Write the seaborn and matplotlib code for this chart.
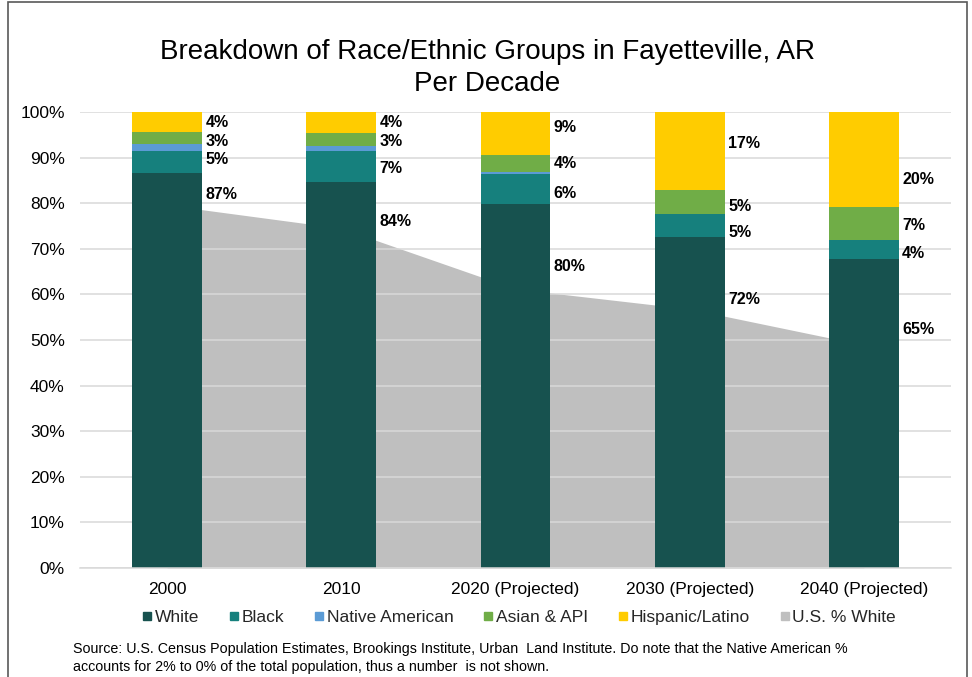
import matplotlib
matplotlib.use("Agg")
import matplotlib.pyplot as plt
import seaborn as sns
import numpy as np
from matplotlib.lines import Line2D
from matplotlib.patches import Rectangle

# Data (percent of population)
years = ["2000", "2010", "2020 (Projected)", "2030 (Projected)", "2040 (Projected)"]
white = [86.6, 84.6, 79.9, 72.6, 67.7]
black = [4.8, 6.8, 6.6, 5.1, 4.2]
native = [1.6, 1.1, 0.4, 0.0, 0.0]
asian = [2.6, 3.0, 3.7, 5.1, 7.3]
hispanic = [4.4, 4.5, 9.4, 17.2, 20.8]
us_white = [79.6, 74.5, 61.2, 56.8, 48.9]

# data label text as shown on the chart
white_lbl = ["87%", "84%", "80%", "72%", "65%"]
black_lbl = ["5%", "7%", "6%", "5%", "4%"]
asian_lbl = ["3%", "3%", "4%", "5%", "7%"]
hisp_lbl = ["4%", "4%", "9%", "17%", "20%"]

series = ["White", "Black", "Native American", "Asian & API", "Hispanic/Latino"]
colors = ["#17524F", "#16807D", "#5B9BD5", "#70AD47", "#FFCC00"]
gray = "#BFBFBF"

sns.set_theme(style="white")
plt.rcParams["font.family"] = ["Liberation Sans", "DejaVu Sans"]

fig = plt.figure(figsize=(9.72, 6.77), dpi=100)
ax = fig.add_axes([80 / 972, 1 - 568 / 677, 871 / 972, 456 / 677])

# U.S. % white as grey area behind the bars
x = np.arange(len(years))
ax.fill_between(x, us_white, 0, color=gray, lw=0, zorder=0.3)

# stacked bars: draw cumulative totals from the top down
stack = np.array([white, black, native, asian, hispanic])
cum = np.cumsum(stack, axis=0)
for i in range(len(series) - 1, -1, -1):
    sns.barplot(x=years, y=cum[i], color=colors[i], width=0.4, saturation=1,
                linewidth=0, ax=ax, zorder=2)

# data labels to the right of each bar
bottoms = cum - stack
white_y = np.array(us_white) + np.array([2.2, 1.4, 5.0, 2.0, 3.3])
black_y = bottoms[1] + stack[1] / 2 + np.array([0.5, -0.3, -1.0, -1.5, -0.9])
asian_y = bottoms[3] + stack[3] / 2 + np.array([-0.7, -0.4, 0.0, -1.0, -0.5])
hisp_y = bottoms[4] + stack[4] / 2 + np.array([-0.2, 0.0, 1.2, 1.6, -4.5])
for ys, labs in [(white_y, white_lbl), (black_y, black_lbl),
                 (asian_y, asian_lbl), (hisp_y, hisp_lbl)]:
    for xi, yi, lab in zip(x, ys, labs):
        ax.text(xi + 0.22, yi, lab, ha="left", va="center", fontsize=11.5,
                fontweight="bold", color="#000000", zorder=3)

ax.set_xlim(-0.5, 4.5)
ax.set_ylim(0, 100)
ax.set_yticks(range(0, 101, 10))
ax.set_yticklabels([f"{v}%" for v in range(0, 101, 10)])
ax.yaxis.grid(True, color="#D9D9D9", lw=1.1)
ax.set_axisbelow(True)
for s in ["top", "right", "left"]:
    ax.spines[s].set_visible(False)
ax.spines["bottom"].set_color("#D9D9D9")
ax.spines["bottom"].set_linewidth(1.1)
ax.tick_params(axis="y", length=0, pad=11, labelsize=12.5, labelcolor="#000000")
ax.tick_params(axis="x", length=0, pad=10, labelsize=12.5, labelcolor="#000000")
ax.set_xlabel("")
ax.set_ylabel("")

fig.text(487 / 972, 1 - 68 / 677, "Breakdown of Race/Ethnic Groups in Fayetteville, AR\nPer Decade",
         ha="center", va="center", fontsize=20, linespacing=1.3, color="#000000")

handles = [Line2D([], [], marker="s", ls="none", color=c, markersize=6)
           for c in colors + [gray]]
fig.legend(handles, series + ["U.S. % White"], loc="center", ncol=6,
           bbox_to_anchor=(518 / 972, 1 - 617 / 677), frameon=False,
           fontsize=12.5, handletextpad=0.05, columnspacing=1.6, handlelength=0.8)

fig.text(73 / 972, 1 - 658 / 677,
         "Source: U.S. Census Population Estimates, Brookings Institute, Urban  Land Institute. "
         "Do note that the Native American %\naccounts for 2% to 0% of the total population, "
         "thus a number  is not shown.",
         ha="left", va="center", fontsize=10.3, linespacing=1.35, color="#000000")

fig.add_artist(Rectangle((8 / 972, -0.01), 959 / 972, 1.0 + 0.01 - 1.5 / 677,
                         transform=fig.transFigure, fill=False,
                         edgecolor="#595959", lw=1.2))

fig.savefig("out.png", dpi=100)
